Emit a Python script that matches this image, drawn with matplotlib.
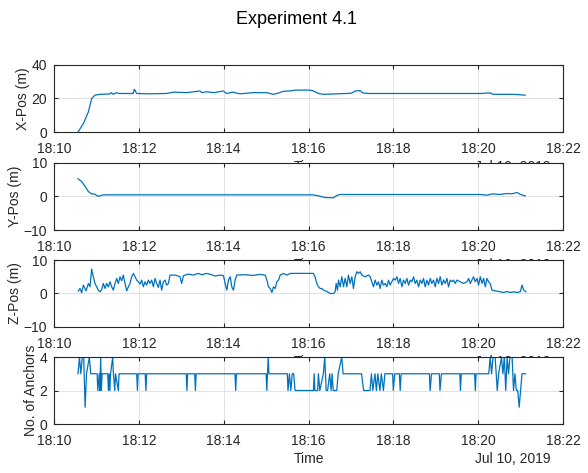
import matplotlib
matplotlib.use("Agg")
import matplotlib.pyplot as plt
import matplotlib.dates as mdates
import numpy as np
from datetime import datetime, timedelta

plt.rcParams['font.family'] = ['Liberation Sans', 'DejaVu Sans']

T0 = datetime(2019, 7, 10, 18, 10, 0)

# Position samples: seconds after 18:10:00 and value
x_t = [34, 41.5, 48.6, 53.3, 58, 65, 72, 79, 81, 84, 88, 92, 100, 112, 113.7, 117, 135,
       159, 170, 188, 206.6, 209, 216, 226, 239.5, 244, 253, 263, 282, 301, 310, 317,
       324.5, 334, 341, 362, 367, 374, 381, 395, 414, 421, 426, 433, 437, 446, 461, 508,
       555, 603, 617, 621, 650, 666.5]
x_v = [0, 5, 12, 20, 22, 22.5, 22.6, 22.7, 23.5, 22.5, 23.5, 23, 23, 23, 25.5, 23, 22.8,
       23, 23.8, 23.5, 24.5, 23.5, 24, 23.5, 24.5, 23, 23.8, 22.8, 23.5, 23.5, 22.5, 23.2,
       24.3, 24.5, 25, 25, 24.5, 23, 22.5, 22.7, 23, 23.2, 24.5, 24.7, 23.3, 23, 23, 23,
       23, 23, 23.3, 22.5, 22.5, 22]

y_t = [34, 39, 44, 48.6, 53, 58, 61.7, 65, 69.8, 200, 366.7, 376, 383, 395, 400, 404.7,
       500, 603, 612, 621, 630, 640.6, 648, 654.8, 660, 666.5]
y_v = [5.3, 4.5, 3, 1.5, 0.8, 0.7, 0.1, 0.2, 0.5, 0.5, 0.5, 0.1, -0.3, -0.4, 0.3, 0.6,
       0.6, 0.6, 0.4, 0.8, 0.6, 0.9, 0.8, 1.2, 0.6, 0.2]

z_t = [34.4, 36.8, 39.1, 41.5, 43.8, 45.3, 48.6, 50.9, 53.3, 55.6, 58.0, 60.4, 62.7, 65.1,
       67.4, 69.8, 72.2, 74.5, 76.9, 79.2, 81.6, 83.9, 86.3, 88.7, 91.0, 93.4, 95.7, 98.1,
       100.5, 102.8, 105.2, 107.5, 109.9, 112.3, 114.6, 117.0, 119.3, 121.7, 124.0, 126.4,
       128.8, 131.1, 133.5, 135.8, 138.2, 140.6, 142.9, 145.3, 147.6, 150.0, 152.3, 154.7,
       157.1, 159.4, 161.8, 164.1, 171.2, 175.9, 178.3, 180.6, 183.0, 190.1, 197.1, 204.2,
       209.0, 216.1, 223.1, 227.9, 235.0, 239.7, 242.1, 244.4, 246.8, 249.2, 251.5, 253.9,
       256.2, 258.6, 270, 282, 291, 298.7, 301.1, 303.4, 305.8, 308.2, 310.5, 312.9, 315.2,
       317.6, 320.0, 324.7, 329.4, 334.1, 348, 367, 369.3, 371.7, 374.1, 376.4, 378.8,
       381.1, 385.9, 390.6, 395.3, 397.7, 399.1, 401.0, 402.4, 404.7, 407.1, 409.5, 411.8,
       414.2, 416.5, 418.9, 421.3, 423.6, 426.0, 428.3, 430.7, 433.1, 435.4, 440.1, 444.9,
       447.2, 449.6, 451.9, 454.3, 456.7, 459.0, 461.4, 463.7, 466.1, 468.5, 470.8, 473.2,
       475.5, 477.9, 480.3, 482.6, 485.0, 487.3, 489.7, 492.1, 494.4, 496.8, 499.1, 501.5,
       503.9, 506.2, 508.6, 510.9, 513.3, 515.7, 518.0, 520.4, 522.7, 525.1, 527.5, 529.8,
       532.2, 534.5, 536.9, 539.3, 541.6, 544.0, 546.3, 548.7, 551.1, 553.4, 555.8, 558.1,
       560.5, 562.9, 565.2, 567.6, 569.9, 574.7, 579.4, 584.1, 586.5, 588.8, 591.2, 593.5,
       595.9, 598.3, 600.6, 603.0, 605.4, 607.7, 610.1, 612.4, 614.8, 617.1, 619.5, 624.2,
       631.3, 636.0, 640.7, 645.5, 650.2, 654.9, 659.6, 662.0, 664.4, 667.7]
z_v = [0.7, 1.5, 0.2, 2.5, 1.5, 0.8, 3, 2, 7.3, 5, 3, 2, 1, 0.5, 1.2, 3, 1.5, 3, 2, 3.5, 2,
       1, 3, 4.5, 3, 5, 3.8, 5.5, 3, 0.8, 2, 3, 5, 6, 5, 4, 3.5, 2.8, 4, 2, 3.5, 2.5, 4, 3,
       4, 2, 4.5, 3, 1.8, 4, 1, 3.5, 4, 2.5, 3, 5.5, 5.5, 5.2, 5, 3, 5.3, 5.8, 5.5, 6, 5.6,
       6, 5.6, 5.2, 5.5, 5.3, 3, 1, 4, 5, 2, 1, 4, 5.5, 5.6, 5.4, 5.7, 5.5, 4, 2, 1.5, 0.3,
       2, 1.5, 3.5, 4, 5.5, 6, 5.5, 6, 6, 6, 5, 3, 2, 1.5, 1.5, 1, 0.6, 0, 0, 0.5, 3, 1, 4,
       2, 5, 2, 4.5, 2, 5.5, 3, 5, 1.5, 5, 6.5, 6, 6.5, 5.5, 5, 5.5, 5, 3.5, 2, 4, 2.5, 3.5,
       1.5, 4, 2.5, 3, 2, 4, 2.5, 3.5, 4.5, 4, 5, 3, 4.5, 2, 4, 3, 4.5, 2.5, 4, 3.5, 5, 3,
       4, 2, 4, 3, 4.5, 2, 4, 2.5, 4.5, 3, 4, 2, 4.5, 3, 5, 2.5, 4, 3, 4.5, 2, 4, 3.5, 4,
       3, 4, 3.5, 3, 3.5, 4.5, 3, 4, 5, 3.5, 4.5, 2.5, 5, 3, 4.5, 2, 4.5, 3.5, 3, 1, 0.8,
       0.5, 0.3, 0.6, 0.3, 0.5, 0.3, 0.5, 2.5, 1, 0.5]

anc_t = [34, 36, 38, 40, 42, 44, 46, 50, 52, 61, 62, 64, 65, 66, 67, 68, 76, 77, 78, 79,
         80, 83, 84, 86, 87, 91, 92, 117, 118, 119, 129, 130, 131, 187, 188, 189, 199, 200,
         201, 256, 257, 258, 300, 301, 303, 304, 330, 331, 333, 335, 337, 339, 341, 367,
         368, 369, 373, 374, 376, 381, 383, 385, 387, 390, 392, 393.4, 395, 400, 402, 407,
         409, 435, 438, 447, 449, 451, 454, 456, 458, 461, 463, 466, 468, 479, 480, 482,
         488.5, 489.7, 491, 531, 532, 534, 545, 546, 548, 574, 575, 576, 595, 596, 597, 615,
         617, 619, 621, 624, 627, 629, 633, 635, 637, 639, 641, 643, 645, 648, 650, 652,
         654, 656, 658, 660, 662, 667]
anc_v = [3, 4, 3, 4, 4, 1, 3, 4, 3, 3, 2, 3, 2, 4, 2, 3, 3, 2, 3, 2, 3, 4, 3, 2, 3, 2, 3,
         3, 2, 3, 3, 2, 3, 3, 2, 3, 3, 2, 3, 3, 2, 3, 3, 2, 4, 3, 3, 2, 3, 2, 3, 3, 2, 2,
         3, 2, 2, 3, 2, 3, 4, 2, 2, 3, 2, 3, 2, 2, 3, 4, 3, 3, 2, 2, 3, 2, 3, 2, 3, 2, 3,
         2, 3, 3, 2, 3, 3, 2, 3, 3, 2, 3, 3, 2, 3, 3, 2, 3, 3, 2, 3, 3, 4, 3, 4, 4, 2, 3,
         4, 3, 4, 2, 4, 3, 4, 4, 2, 3, 2, 2, 1, 2, 3, 3]

panels = [
    (x_t, x_v, 'X-Pos (m)', (0, 40), [0, 20, 40]),
    (y_t, y_v, 'Y-Pos (m)', (-10, 10), [-10, 0, 10]),
    (z_t, z_v, 'Z-Pos (m)', (-10, 10), [-10, 0, 10]),
    (anc_t, anc_v, 'No. of Anchors', (0, 4), [0, 2, 4]),
]

W, H = 588, 473
fig = plt.figure(figsize=(W / 100, H / 100), dpi=100)
fig.text(296 / W, 1 - 20 / H, 'Experiment 4.1', ha='center', va='center',
         fontsize=13, color='black')

tops = [65, 163, 260, 357]
ink = '#262626'
for (t, v, ylab, ylim, yticks), top in zip(panels, tops):
    ax = fig.add_axes([54 / W, 1 - (top + 67) / H, 509 / W, 67 / H])
    times = [T0 + timedelta(seconds=s) for s in t]
    ax.plot(times, v, color='#0072BD', lw=0.9)
    ax.set_xlim(T0, T0 + timedelta(minutes=12))
    ax.set_ylim(*ylim)
    ax.set_yticks(yticks)
    ax.xaxis.set_major_locator(mdates.MinuteLocator(byminute=range(0, 60, 2)))
    ax.xaxis.set_major_formatter(mdates.DateFormatter('%H:%M'))
    ax.grid(True, color='#e2e2e2', lw=0.7)
    ax.set_axisbelow(True)
    ax.tick_params(direction='in', length=3, top=True, right=True, colors=ink,
                   labelsize=10, width=0.8)
    ax.tick_params(axis='x', pad=7)
    ax.tick_params(axis='y', pad=5)
    for s in ax.spines.values():
        s.set_color(ink)
        s.set_linewidth(0.8)
    ax.set_ylabel(ylab, fontsize=10, color=ink, labelpad=1)
    ax.set_xlabel('Time', fontsize=10, color=ink, labelpad=3)
    ax.text(0.975, -0.52, 'Jul 10, 2019', transform=ax.transAxes, ha='right',
            va='center', fontsize=10, color=ink)

fig.savefig('out.png', dpi=100)
